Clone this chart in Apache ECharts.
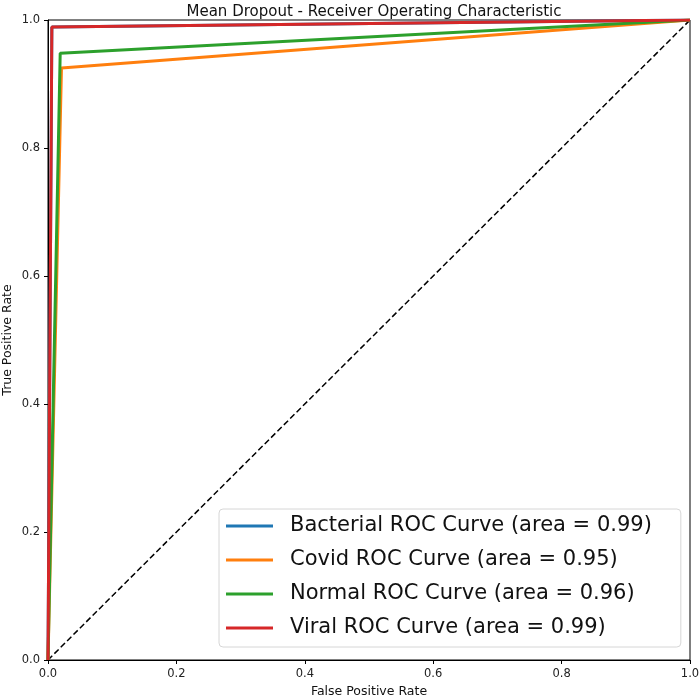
<!DOCTYPE html>
<html>
<head>
<meta charset="utf-8">
<script src="https://cdn.jsdelivr.net/npm/echarts@6/dist/echarts.min.js"></script>
<style>html,body{margin:0;padding:0;background:#fff}#c{width:700px;height:697px}</style>
</head>
<body>
<div id="c"></div>
<script>
const seriesNames = ['Bacterial ROC Curve (area = 0.99)', 'Covid ROC Curve (area = 0.95)', 'Normal ROC Curve (area = 0.96)', 'Viral ROC Curve (area = 0.99)'];
const bacterialFpr = [0, 0.006, 1];
const bacterialTpr = [0, 0.989, 1];
const covidFpr = [0, 0.021, 1];
const covidTpr = [0, 0.925, 1];
const normalFpr = [0, 0.019, 1];
const normalTpr = [0, 0.948, 1];
const viralFpr = [0, 0.006, 1];
const viralTpr = [0, 0.989, 1];
const diagX = [0, 1];
const diagY = [0, 1];
const colors = ['#1f77b4', '#ff7f0e', '#2ca02c', '#d62728'];

const pairs = (xs, ys) => xs.map((x, i) => [x, ys[i]]);
const curves = [
  pairs(bacterialFpr, bacterialTpr),
  pairs(covidFpr, covidTpr),
  pairs(normalFpr, normalTpr),
  pairs(viralFpr, viralTpr)
];

const font = 'DejaVu Sans';
const chart = echarts.init(document.getElementById('c'), null, {renderer: 'canvas'});
const series = curves.map((d, i) => ({
  name: seriesNames[i],
  type: 'line',
  data: d,
  symbol: 'none',
  z: 3 + i,
  lineStyle: {color: colors[i], width: 3},
  itemStyle: {color: colors[i]},
  animation: false
}));
series.push({
  name: 'diag',
  type: 'line',
  data: pairs(diagX, diagY),
  symbol: 'none',
  z: 2,
  lineStyle: {color: '#000', width: 1.5, type: [6, 3]},
  animation: false
});

chart.setOption({
  animation: false,
  title: {
    text: 'Mean Dropout - Receiver Operating Characteristic',
    left: 369, top: 0, textAlign: 'center',
    textStyle: {fontFamily: font, fontSize: 15, fontWeight: 'normal', color: '#111'}
  },
  grid: {left: 48, right: 10, top: 20, bottom: 37, containLabel: false, outerBoundsMode: 'none', show: true, borderColor: '#000', borderWidth: 1, backgroundColor: 'transparent'},
  xAxis: {
    type: 'value', min: 0, max: 1, interval: 0.2,
    name: 'False Positive Rate', nameLocation: 'middle', nameGap: 25, nameMoveOverlap: false,
    nameTextStyle: {fontFamily: font, fontSize: 12.5, color: '#111'},
    axisLine: {show: true, lineStyle: {color: '#000', width: 1}},
    axisTick: {show: true, length: 4, lineStyle: {color: '#000'}},
    axisLabel: {fontFamily: font, fontSize: 11.5, color: '#222', margin: 8, formatter: v => v.toFixed(1)},
    splitLine: {show: false}
  },
  yAxis: {
    type: 'value', min: 0, max: 1, interval: 0.2,
    name: 'True Positive Rate', nameLocation: 'middle', nameGap: 34, nameRotate: 90, nameMoveOverlap: false,
    nameTextStyle: {fontFamily: font, fontSize: 12.5, color: '#111'},
    axisLine: {show: true, lineStyle: {color: '#000', width: 1}},
    axisTick: {show: true, length: 4, lineStyle: {color: '#000'}},
    axisLabel: {fontFamily: font, fontSize: 11.5, color: '#222', margin: 8, formatter: v => v.toFixed(1)},
    splitLine: {show: false}
  },
  legend: {
    data: seriesNames,
    orient: 'vertical',
    left: 219, top: 509,
    padding: [5, 29, 7, 7],
    itemGap: 10,
    itemWidth: 47, itemHeight: 3,
    icon: 'rect',
    backgroundColor: '#fff',
    borderColor: '#d6d6d6', borderWidth: 1, borderRadius: 4,
    textStyle: {fontFamily: font, fontSize: 21, color: '#111', lineHeight: 24, padding: [0, 0, 0, 12]}
  },
  series: series
});
</script>
</body>
</html>
